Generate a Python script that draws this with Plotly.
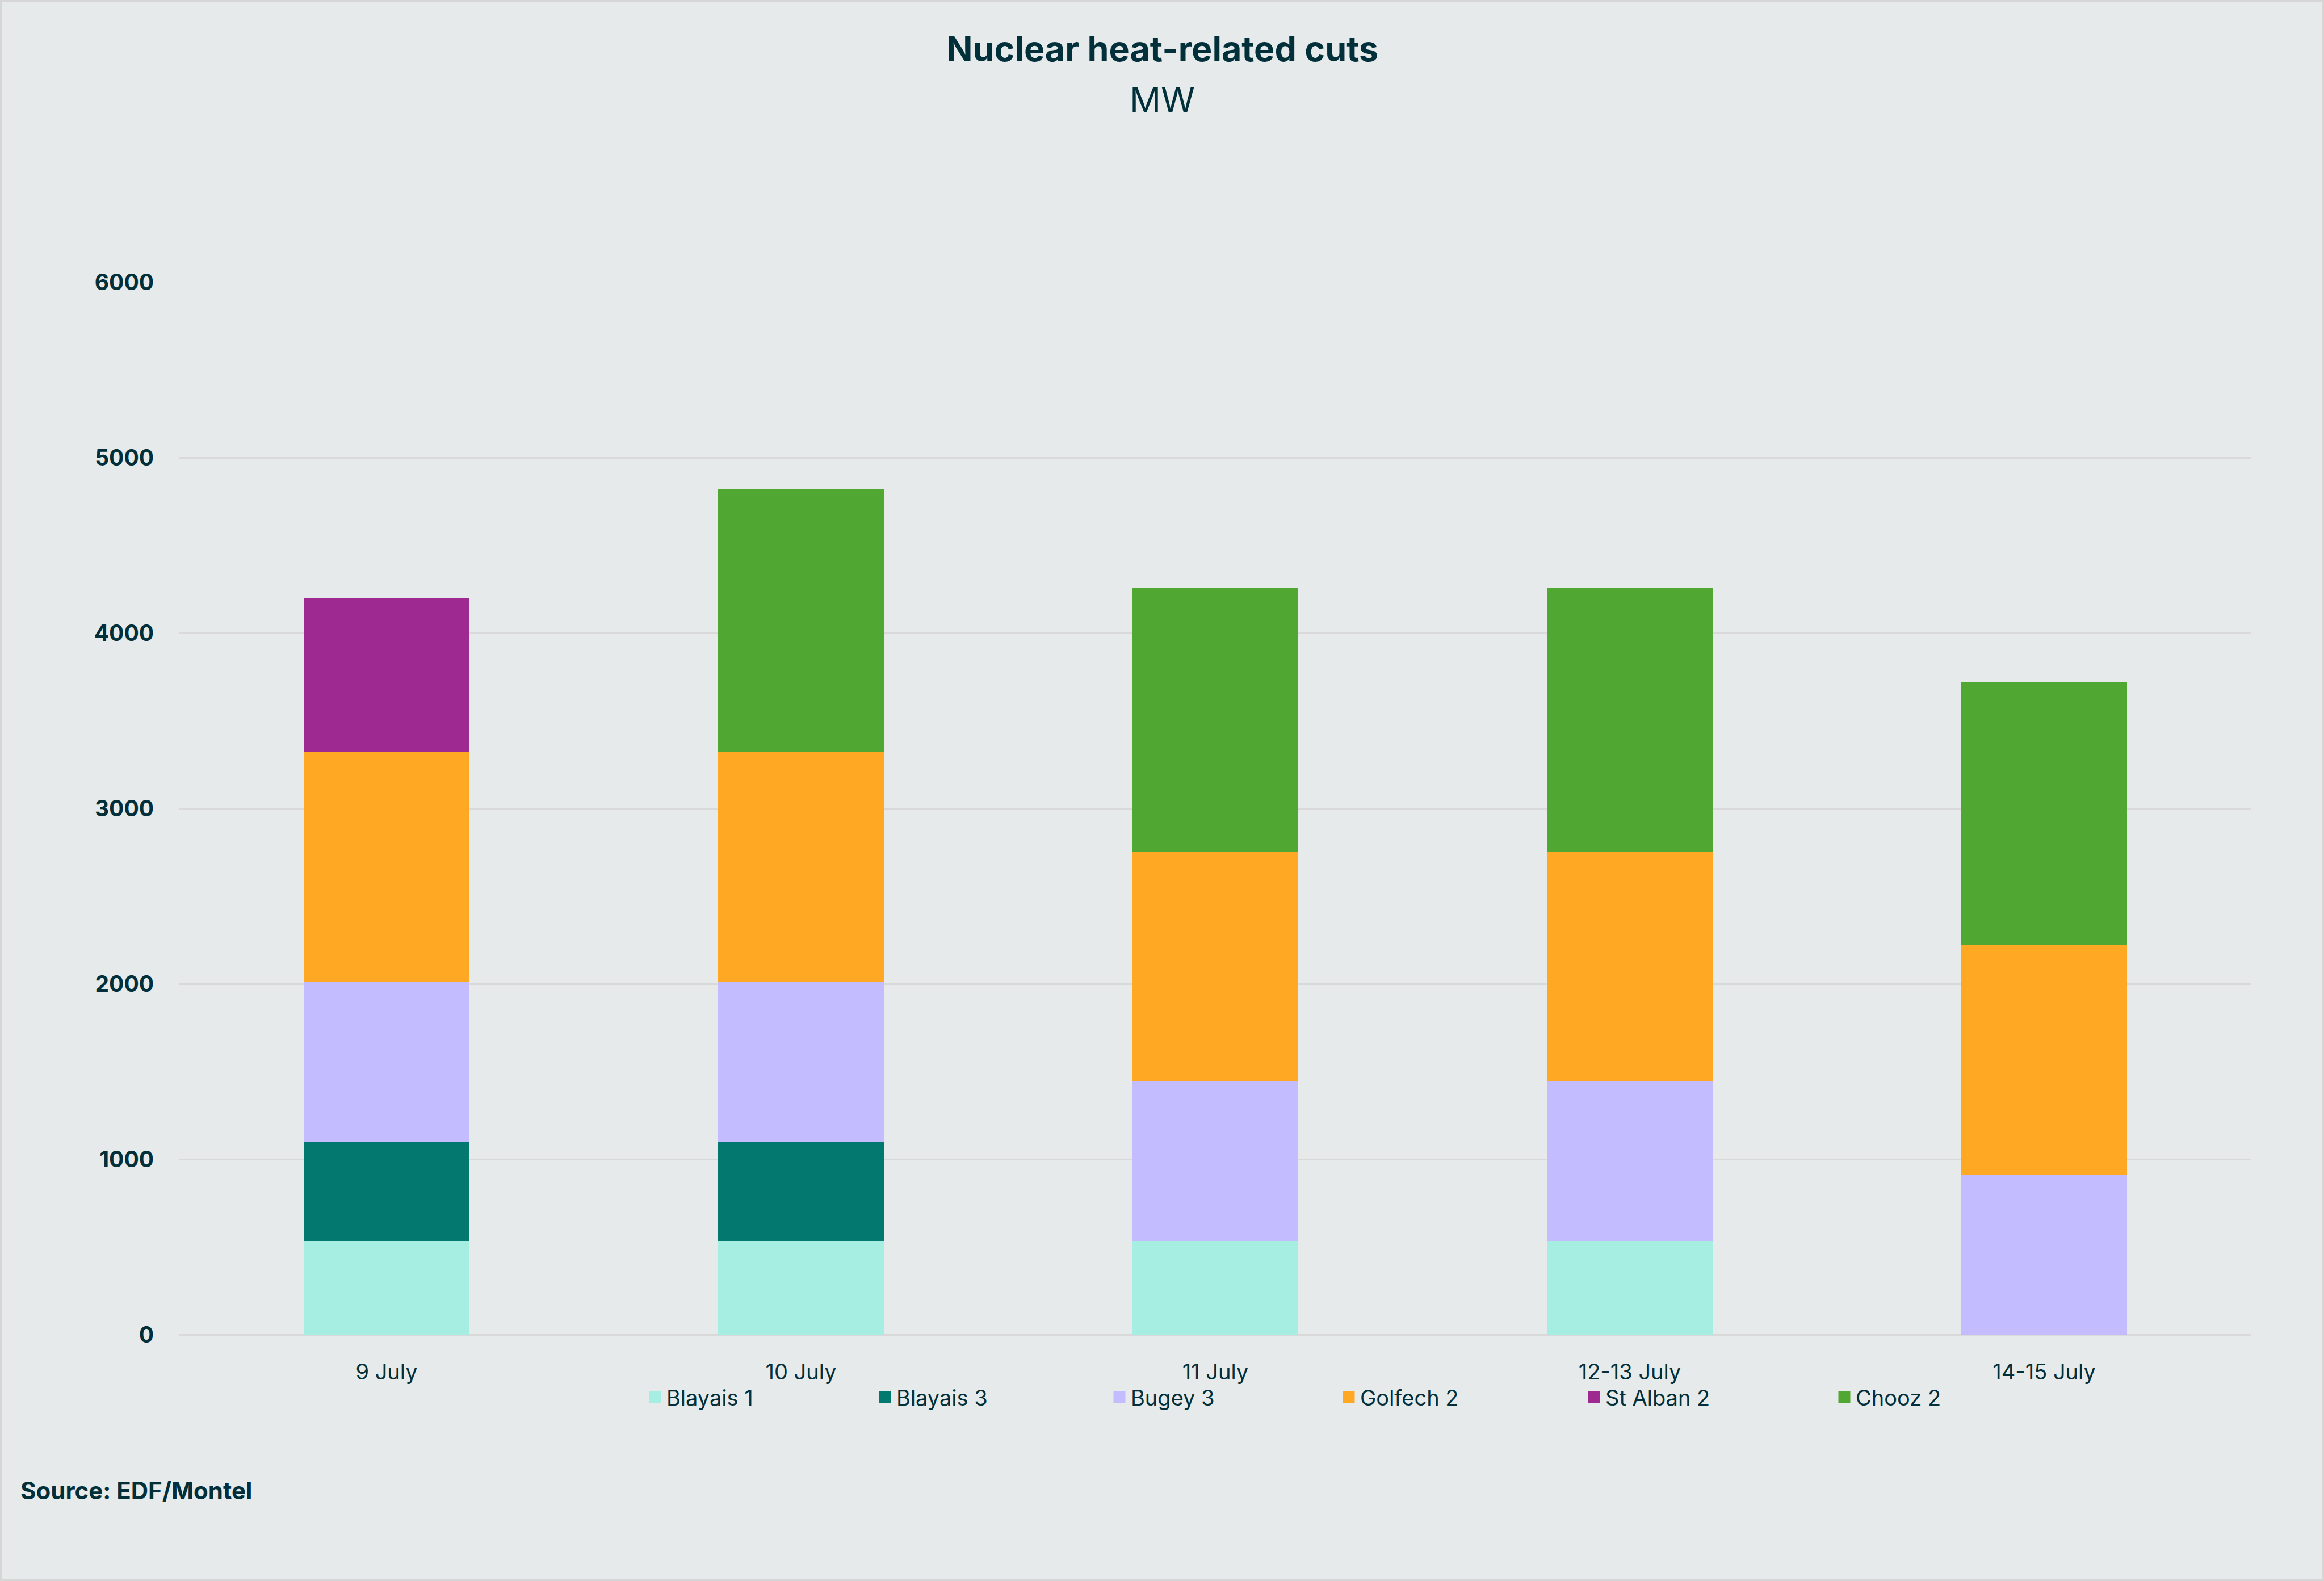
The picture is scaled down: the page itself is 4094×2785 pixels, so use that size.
import plotly.graph_objects as go

categories = ["9 July", "10 July", "11 July", "12-13 July", "14-15 July"]

blayais_1 = [535, 535, 535, 535, 0]
blayais_3 = [565, 565, 0, 0, 0]
bugey_3 = [910, 910, 910, 910, 910]
golfech_2 = [1310, 1310, 1310, 1310, 1310]
st_alban_2 = [880, 0, 0, 0, 0]
chooz_2 = [0, 1500, 1500, 1500, 1500]

series_names = ["Blayais 1", "Blayais 3", "Bugey 3", "Golfech 2", "St Alban 2", "Chooz 2"]
series_values = [blayais_1, blayais_3, bugey_3, golfech_2, st_alban_2, chooz_2]
series_colors = ["#a6ede2", "#02786e", "#c3bdff", "#ffa824", "#9e2a91", "#50a731"]

y_ticks = [0, 1000, 2000, 3000, 4000, 5000, 6000]

TEXT = "#02303a"
BG = "#e6eaeb"
GRID = "#d9d9d9"

W, H = 4094, 2785
ML, MR, MT, MB = 316, 128, 497, 434
PW = W - ML - MR
PH = H - MT - MB

# left edge (px) of each legend entry
legend_left_px = [1134, 1539, 1952, 2356, 2788, 3229]


def px_to_paper_x(px):
    return (px - ML) / PW


def px_to_paper_y(py):
    return (H - MB - py) / PH


fig = go.Figure()

for name, vals, col in zip(series_names, series_values, series_colors):
    fig.add_trace(go.Bar(
        x=categories, y=vals, name=name, marker=dict(color=col, line=dict(width=0)),
        legendgroup=name, showlegend=False, hoverinfo="x+y+name",
    ))

legend_keys = ["legend"] + [f"legend{i}" for i in range(2, len(series_names) + 1)]

# legend proxies (bigger square swatches), one positioned legend each
for name, col, lk in zip(series_names, series_colors, legend_keys):
    fig.add_trace(go.Scatter(
        x=[None], y=[None], mode="markers", name=name, legendgroup=name,
        marker=dict(symbol="square", size=16, color=col, line=dict(color=col, width=10)),
        showlegend=True, legend=lk,
    ))

legend_layouts = {}
for lk, lx in zip(legend_keys, legend_left_px):
    legend_layouts[lk] = dict(
        orientation="h", x=px_to_paper_x(lx), xanchor="left",
        y=px_to_paper_y(2461), yanchor="middle",
        font=dict(family="Inter", size=38, color=TEXT),
        bgcolor="rgba(0,0,0,0)",
    )

fig.update_layout(
    width=W, height=H,
    margin=dict(l=ML, r=MR, t=MT, b=MB, pad=0),
    paper_bgcolor=BG, plot_bgcolor=BG,
    barmode="stack", bargap=0.6,
    font=dict(family="Inter", color=TEXT, size=38),
    showlegend=True,
    xaxis=dict(
        type="category", showgrid=False, showline=False, ticks="",
        tickfont=dict(family="Inter", size=38, color=TEXT),
        ticklabelstandoff=40,
    ),
    yaxis=dict(
        range=[0, 6000], tickvals=y_ticks, ticktext=[str(v) for v in y_ticks],
        showgrid=True, gridcolor=GRID, gridwidth=3,
        zeroline=True, zerolinecolor=GRID, zerolinewidth=3,
        showline=False, ticks="",
        tickfont=dict(family="Inter", size=39, color=TEXT, weight=700),
        ticklabelstandoff=44,
    ),
    annotations=[
        dict(text="<b>Nuclear heat-related cuts</b>", xref="paper", yref="paper",
             x=px_to_paper_x(2047), y=px_to_paper_y(86), xanchor="center", yanchor="middle",
             showarrow=False, font=dict(family="Inter", size=61, color=TEXT)),
        dict(text="MW", xref="paper", yref="paper",
             x=px_to_paper_x(2047), y=px_to_paper_y(175), xanchor="center", yanchor="middle",
             showarrow=False, font=dict(family="Inter", size=61, color=TEXT)),
        dict(text="<b>Source: EDF/Montel</b>", xref="paper", yref="paper",
             x=px_to_paper_x(34), y=px_to_paper_y(2625), xanchor="left", yanchor="middle",
             showarrow=False, font=dict(family="Inter", size=42, color=TEXT)),
    ],
    shapes=[
        dict(type="rect", xref="paper", yref="paper",
             x0=px_to_paper_x(1.5), x1=px_to_paper_x(W - 1.5),
             y0=px_to_paper_y(H - 1.5), y1=px_to_paper_y(1.5),
             line=dict(color="#d6d6d6", width=3), fillcolor="rgba(0,0,0,0)", layer="below"),
    ],
    **legend_layouts,
)

fig.write_html("out.html")
